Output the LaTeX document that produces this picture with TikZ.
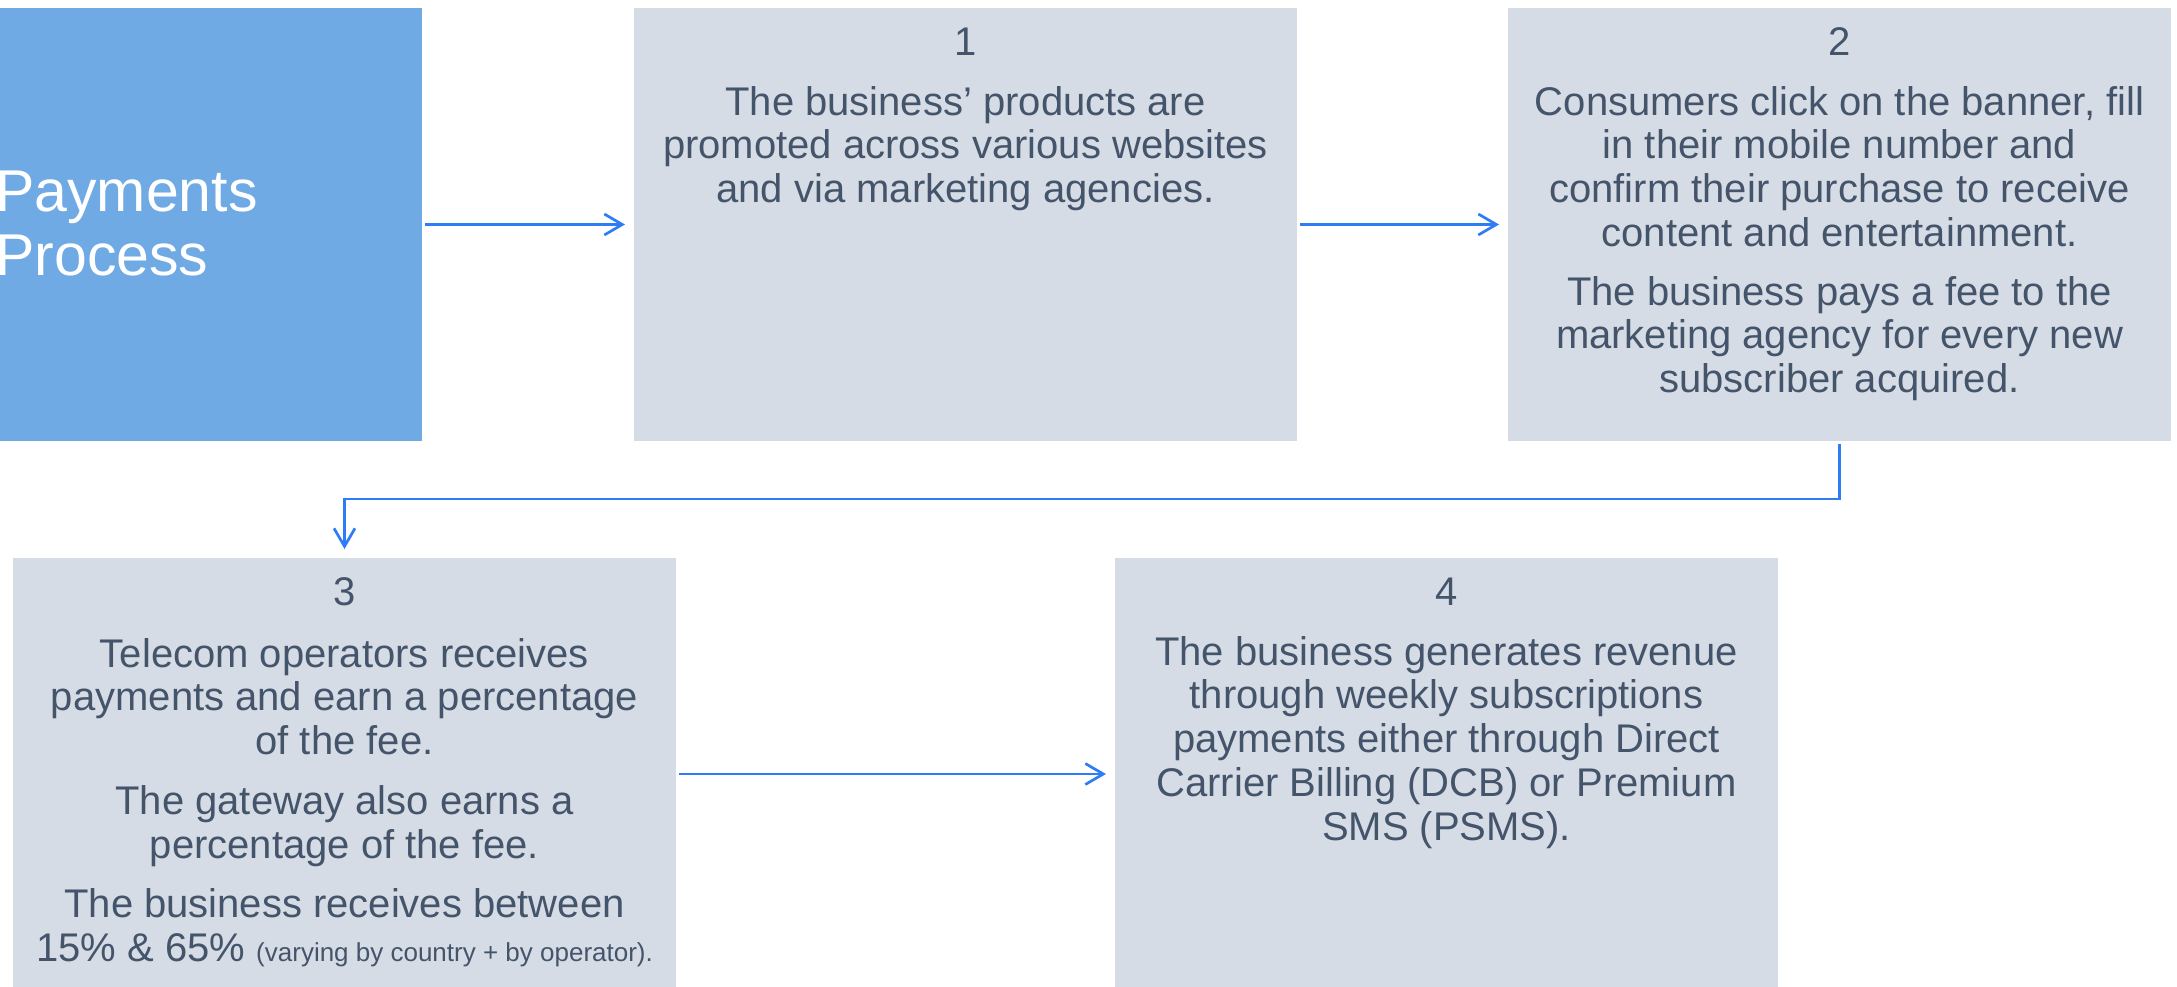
\documentclass[tikz,border=0pt]{standalone}
\usepackage{fontspec}
\setmainfont{Liberation Sans}
\usetikzlibrary{arrows.meta}

\definecolor{headblue}{HTML}{6FAAE4}
\definecolor{stepgray}{HTML}{D6DCE5}
\definecolor{bodytext}{HTML}{44546A}
\definecolor{flowblue}{HTML}{2F7DF6}

\begin{document}
\begin{tikzpicture}[x=1pt,y=-1pt,
  panel/.style={rectangle, fill=stepgray, draw=none, anchor=north west,
    minimum width=663pt, minimum height=433pt, inner sep=0pt, outer sep=0pt},
  stepnum/.style={anchor=base, text=bodytext, inner sep=0pt,
    font=\fontsize{40}{44}\selectfont},
  stepbody/.style={anchor=north, text=bodytext, align=center, inner sep=0pt,
    font=\fontsize{40}{43.7}\selectfont},
  flow/.style={draw=flowblue, line width=2.7pt,
    -{Straight Barb[length=18pt,width=21pt,line width=2.7pt]},
    shorten <=3pt, shorten >=9pt},
]
\useasboundingbox (0,0) rectangle (2177,986);
\clip (0,0) rectangle (2177,986);
\fill[white] (0,0) rectangle (2177,986);

% panels
\node[panel, fill=headblue, minimum width=432pt] (head) at (-10,8) {};
\node[panel] (b1) at (634,8) {};
\node[panel] (b2) at (1508,8) {};
\node[panel, minimum height=432pt] (b3) at (13,558) {};
\node[panel, minimum height=432pt] (b4) at (1115,558) {};

% title
\node[anchor=north west, text=white, align=left, inner sep=0pt,
  font=\fontsize{59}{64}\selectfont] (title) at (-5,166)
  {\rule{0pt}{45pt}Payments\\Process};

% step 1
\node[stepnum] (n1) at (965.5,55) {1};
\node[stepbody] (t1) at (965.5,85)
  {\rule{0pt}{30pt}The business’ products are\\
   promoted across various websites\\
   and via marketing agencies.};

% step 2
\node[stepnum] (n2) at (1839.5,55) {2};
\node[stepbody] (t2) at (1839.5,85)
  {\rule{0pt}{30pt}Consumers click on the banner, fill\\
   in their mobile number and\\
   confirm their purchase to receive\\
   content and entertainment.\\[15pt]
   The business pays a fee to the\\
   marketing agency for every new\\
   subscriber acquired.};

% step 3
\node[stepnum] (n3) at (344.5,605) {3};
\node[stepbody] (t3) at (344.5,637)
  {\rule{0pt}{30pt}Telecom operators receives\\
   payments and earn a percentage\\
   of the fee.\\[16pt]
   The gateway also earns a\\
   percentage of the fee.\\[16pt]
   The business receives between\\
   15\% \& 65\% {\fontsize{26}{30}\selectfont (varying by country + by operator).}};

% step 4
\node[stepnum] (n4) at (1446.5,605) {4};
\node[stepbody] (t4) at (1446.5,635)
  {\rule{0pt}{30pt}The business generates revenue\\
   through weekly subscriptions\\
   payments either through Direct\\
   Carrier Billing (DCB) or Premium\\
   SMS (PSMS).};

% connectors
\draw[flow] (head.east) -- (b1.west);
\draw[flow] (b1.east) -- (b2.west);
\draw[flow] (b2.south) -- ++(0,58) -| (b3.north);
\draw[flow] (b3.east) -- (b4.west);
\end{tikzpicture}
\end{document}
